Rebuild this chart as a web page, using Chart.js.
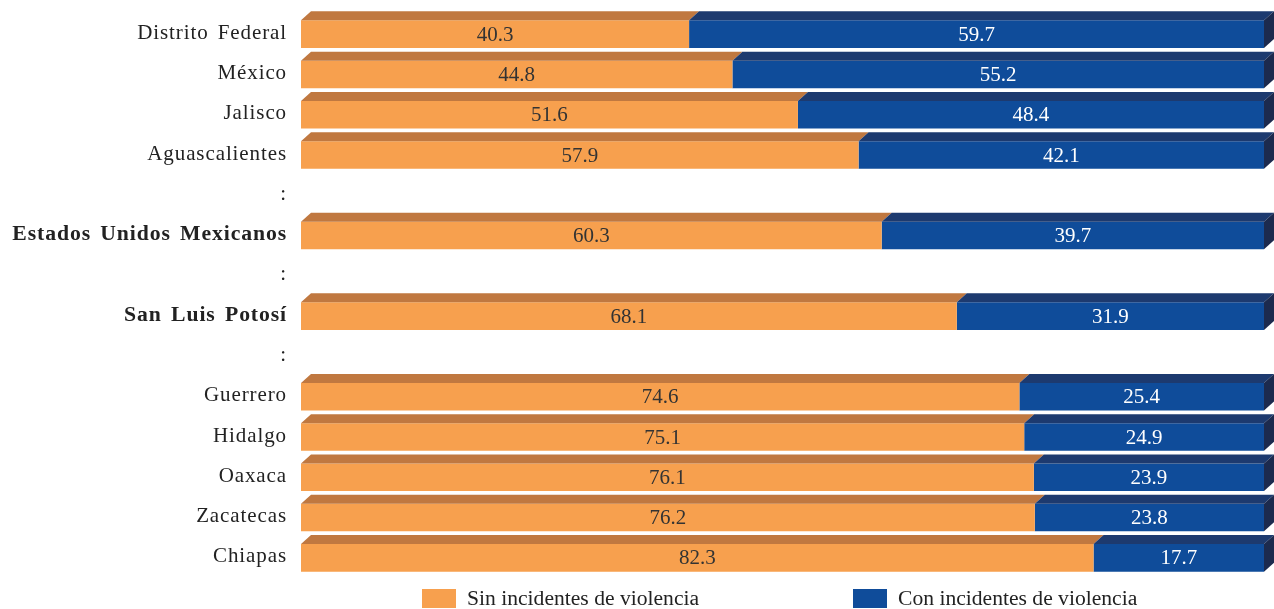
<!DOCTYPE html>
<html>
<head>
<meta charset="utf-8">
<script src="https://cdn.jsdelivr.net/npm/chart.js@4.4.1/dist/chart.umd.min.js"></script>
<style>
html,body{margin:0;padding:0;background:#fff;}
#wrap{width:1274px;height:609px;position:relative;}
</style>
</head>
<body>
<div id="wrap"><canvas id="c" width="1274" height="609"></canvas></div>
<script>
const categories = ['Distrito Federal','México','Jalisco','Aguascalientes',':','Estados Unidos Mexicanos',':','San Luis Potosí',':','Guerrero','Hidalgo','Oaxaca','Zacatecas','Chiapas'];
const sinViolencia = [40.3,44.8,51.6,57.9,null,60.3,null,68.1,null,74.6,75.1,76.1,76.2,82.3];
const conViolencia = [59.7,55.2,48.4,42.1,null,39.7,null,31.9,null,25.4,24.9,23.9,23.8,17.7];
const boldLabels = ['Estados Unidos Mexicanos','San Luis Potosí'];
const seriesNames = ['Sin incidentes de violencia','Con incidentes de violencia'];

const FRONT = ['#F7A04E','#0F4C9A'];
const TOP = ['#C07840','#1D3A6F'];
const SIDE = '#1C2A4E';
const DX = 10, DY = 9;
const SERIF = '"Liberation Serif","Times New Roman",serif';

const threeD = {
  id: 'threeD',
  beforeDraw(chart){ const c=chart.ctx; c.letterSpacing='0.9px'; c.wordSpacing='3px'; },
  beforeDatasetsDraw(chart){ const c=chart.ctx; c.letterSpacing='0px'; c.wordSpacing='0px'; },
  afterDatasetsDraw(chart){
    const ctx = chart.ctx;
    const n = chart.data.datasets.length;
    chart.data.datasets.forEach((ds, di) => {
      const meta = chart.getDatasetMeta(di);
      meta.data.forEach((el, i) => {
        if (ds.data[i] == null) return;
        const p = el.getProps(['x','y','base','height'], true);
        const l = Math.min(p.x, p.base), r = Math.max(p.x, p.base);
        const t = p.y - p.height/2, b = p.y + p.height/2;
        ctx.save();
        ctx.fillStyle = TOP[di];
        ctx.beginPath();
        ctx.moveTo(l, t); ctx.lineTo(r, t); ctx.lineTo(r+DX, t-DY); ctx.lineTo(l+DX, t-DY); ctx.closePath();
        ctx.fill();
        if (di === n-1) {
          ctx.fillStyle = SIDE;
          ctx.beginPath();
          ctx.moveTo(r, t); ctx.lineTo(r+DX, t-DY); ctx.lineTo(r+DX, b-DY); ctx.lineTo(r, b); ctx.closePath();
          ctx.fill();
        }
        ctx.restore();
      });
    });
    chart.data.datasets.forEach((ds, di) => {
      const meta = chart.getDatasetMeta(di);
      meta.data.forEach((el, i) => {
        const v = ds.data[i];
        if (v == null) return;
        const p = el.getProps(['x','y','base'], true);
        ctx.save();
        ctx.font = '21px ' + SERIF;
        ctx.fillStyle = di === 0 ? '#333333' : '#ffffff';
        ctx.textAlign = 'center';
        ctx.textBaseline = 'middle';
        ctx.fillText(v.toFixed(1), (p.x + p.base)/2, p.y + 1);
        ctx.restore();
      });
    });
  },
  afterDraw(chart){
    const ctx = chart.ctx;
    ctx.save();
    ctx.letterSpacing='0px'; ctx.wordSpacing='0px';
    const pos = [422, 853];
    chart.data.datasets.forEach((ds, di) => {
      const x = pos[di];
      ctx.fillStyle = FRONT[di];
      ctx.fillRect(x, 589, 34, 19);
      ctx.fillStyle = '#222222';
      ctx.font = '21.6px ' + SERIF;
      ctx.textAlign = 'left';
      ctx.textBaseline = 'middle';
      ctx.fillText(ds.label, x + 45, 599);
    });
    ctx.restore();
  }
};

new Chart(document.getElementById('c'), {
  type: 'bar',
  data: {
    labels: categories,
    datasets: [
      { label: seriesNames[0], data: sinViolencia, backgroundColor: FRONT[0], borderWidth: 0 },
      { label: seriesNames[1], data: conViolencia, backgroundColor: FRONT[1], borderWidth: 0 }
    ]
  },
  options: {
    indexAxis: 'y',
    responsive: false,
    animation: false,
    events: [],
    layout: { padding: { top: 14, bottom: 31, left: 0, right: 10 } },
    datasets: { bar: { categoryPercentage: 1, barPercentage: 0.685 } },
    plugins: { legend: { display: false }, tooltip: { enabled: false } },
    scales: {
      x: { stacked: true, min: 0, max: 100, display: false },
      y: {
        stacked: true,
        grid: { display: false, drawTicks: false },
        border: { display: false },
        afterFit(scale){ scale.width = 301; scale.paddingTop = 0; scale.paddingBottom = 0; },
        ticks: {
          padding: 14,
          labelOffset: -1,
          color: '#222222',
          font: (ctx) => {
            const bold = boldLabels.includes(categories[ctx.index]);
            return { family: SERIF, size: bold ? 21.7 : 21, weight: bold ? 'bold' : 'normal' };
          }
        }
      }
    }
  },
  plugins: [threeD]
});
</script>
</body>
</html>
